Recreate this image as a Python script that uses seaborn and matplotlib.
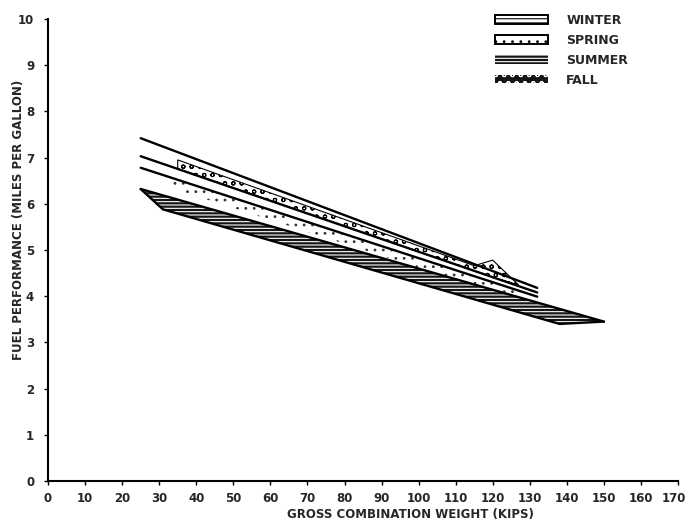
import matplotlib
matplotlib.use("Agg")
import matplotlib.pyplot as plt
import matplotlib.transforms as mtransforms
import seaborn as sns
from matplotlib.patches import Patch

# Season names shown in the key
seasons = ["WINTER", "SPRING", "SUMMER", "FALL"]

# Edge lines of the seasonal bands: gross combination weight (kips) vs. mpg
top_edge_kips = [25, 132]
top_edge_mpg = [7.42, 4.18]

mid_edge_kips = [25, 132]
mid_edge_mpg = [7.03, 4.08]

low_edge_kips = [25, 132]
low_edge_mpg = [6.78, 3.99]

summer_upper_kips = [25, 150]
summer_upper_mpg = [6.32, 3.45]
summer_lower_kips = [25, 31, 138, 150]
summer_lower_mpg = [6.32, 5.88, 3.40, 3.45]

fall_kips = [35, 115, 120, 127]
fall_upper_mpg = [6.95, 4.66, 4.78, 4.24]
fall_lower_mpg = [6.76, 4.55, 4.41, 4.24]

spring_kips = [31, 36, 124, 128]
spring_upper_mpg = [6.62, 6.49, 4.20, 4.10]
spring_lower_mpg = [6.62, 6.27, 4.00, 4.10]

x_ticks = list(range(0, 171, 10))
y_ticks = list(range(0, 11))

sns.set_theme(style="ticks")
plt.rcParams["font.family"] = ["DejaVu Sans"]
plt.rcParams["hatch.linewidth"] = 0.8

fig = plt.figure(figsize=(6.86, 5.23), dpi=100)
ax = fig.add_axes([0.0700, 0.0803, 0.9184, 0.8834])


def band(ax, kips_up, mpg_up, kips_lo, mpg_lo, **kw):
    xs = list(kips_up) + list(kips_lo)[::-1]
    ys = list(mpg_up) + list(mpg_lo)[::-1]
    ax.fill(xs, ys, **kw)


# Winter: between the top and middle edges
band(ax, top_edge_kips, top_edge_mpg, mid_edge_kips, mid_edge_mpg,
     facecolor="white", edgecolor="none", zorder=1)

# Fall: irregular pattern riding on the middle edge
band(ax, fall_kips, fall_upper_mpg, fall_kips, fall_lower_mpg,
     facecolor="white", edgecolor="black", hatch="oo", linewidth=0.8, zorder=2)

# Spring: sparse dots under the low edge
band(ax, spring_kips, spring_upper_mpg, spring_kips, spring_lower_mpg,
     facecolor="white", edgecolor="#333333", hatch="..", linewidth=0.0, zorder=2)

# Summer: dark streaked band
band(ax, summer_upper_kips, summer_upper_mpg, summer_lower_kips, summer_lower_mpg,
     facecolor="#151515", edgecolor="white", hatch="-----", linewidth=0.0, zorder=2)

line_kw = dict(color="black", linewidth=1.7, estimator=None, sort=False, ax=ax, zorder=3)
sns.lineplot(x=top_edge_kips, y=top_edge_mpg, **line_kw)
sns.lineplot(x=mid_edge_kips, y=mid_edge_mpg, **line_kw)
sns.lineplot(x=low_edge_kips, y=low_edge_mpg, **line_kw)
sns.lineplot(x=summer_upper_kips, y=summer_upper_mpg, **line_kw)
sns.lineplot(x=summer_lower_kips, y=summer_lower_mpg, **line_kw)

ax.set_xlim(0, 170)
ax.set_ylim(0, 10)
ax.set_xticks(x_ticks)
ax.set_yticks(y_ticks)
ax.set_xticklabels([str(t) for t in x_ticks], fontsize=8.5, fontweight="bold")
ax.set_yticklabels([str(t) for t in y_ticks], fontsize=8.5, fontweight="bold")
ax.tick_params(axis="both", length=3, width=1.0, color="black", direction="out")
ax.tick_params(axis="x", pad=5)
ax.tick_params(axis="y", pad=7)

# keep the last weight label inside the canvas
last = ax.get_xticklabels()[-1]
last.set_transform(last.get_transform()
                   + mtransforms.ScaledTranslation(-3 / 72, 0, fig.dpi_scale_trans))

for side in ("top", "right"):
    ax.spines[side].set_visible(False)
for side in ("left", "bottom"):
    ax.spines[side].set_linewidth(1.5)
    ax.spines[side].set_color("black")

ax.set_xlabel("GROSS COMBINATION WEIGHT (KIPS)", fontsize=8.5, fontweight="bold")
ax.set_ylabel("FUEL PERFORMANCE (MILES PER GALLON)", fontsize=8.5, fontweight="bold")
ax.xaxis.set_label_coords(0.575, -0.058)
ax.yaxis.set_label_coords(-0.036, 0.565)

handles = [
    Patch(facecolor="white", edgecolor="black", hatch="----", linewidth=1.4),
    Patch(facecolor="white", edgecolor="black", hatch="..", linewidth=1.4),
    Patch(facecolor="#151515", edgecolor="white", hatch="-----", linewidth=0.0),
    Patch(facecolor="#151515", edgecolor="white", hatch="oo", linewidth=0.0),
]
leg = ax.legend(handles, seasons, loc="upper left",
                bbox_to_anchor=(495 / 686, 1 - 14 / 523), bbox_transform=fig.transFigure,
                frameon=False, handlelength=4.2, handleheight=0.65, handletextpad=1.5,
                labelspacing=0.55, borderpad=0, borderaxespad=0,
                prop={"size": 9, "weight": "bold"})

fig.savefig("out.png", dpi=100, facecolor="white")
